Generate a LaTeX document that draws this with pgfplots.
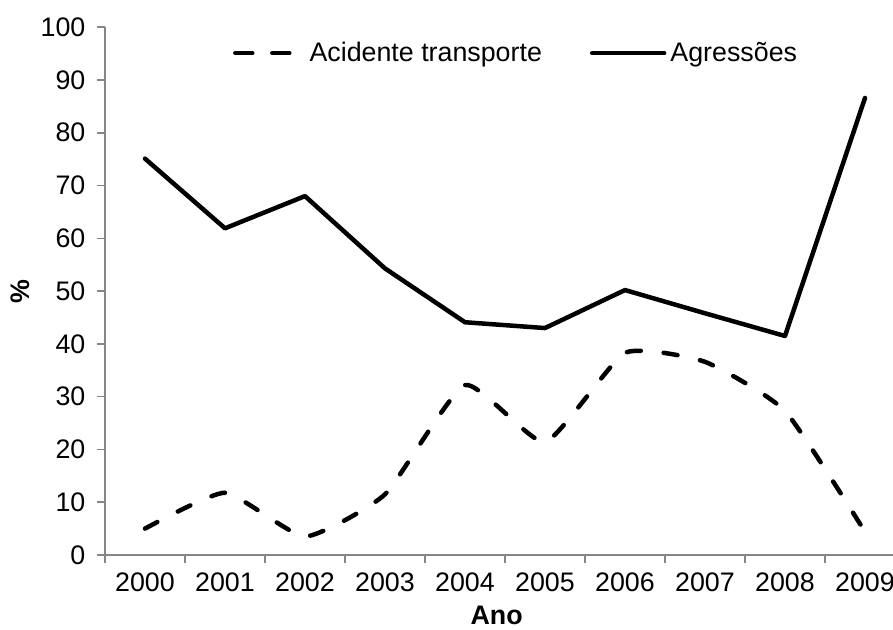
\documentclass[border=0pt]{standalone}
\usepackage{fontspec}
\setmainfont{Liberation Sans}
\usepackage{pgfplots}
\pgfplotsset{compat=1.18}
\definecolor{axgray}{RGB}{134,134,134}

\begin{document}
\begin{tikzpicture}
\begin{axis}[
    scale only axis,
    width=394pt, height=263.9pt,
    xmin=-0.5, xmax=9.35,
    ymin=0, ymax=100,
    axis lines*=left,
    axis line style={-, draw=axgray, line width=0.8pt},
    xtick={0,1,2,3,4,5,6,7,8,9},
    xticklabels={2000,2001,2002,2003,2004,2005,2006,2007,2008,2009},
    minor xtick={-0.5,0.5,1.5,2.5,3.5,4.5,5.5,6.5,7.5,8.5},
    ytick={0,10,...,100},
    tick align=outside,
    major tick length=3.8pt, minor tick length=3.8pt,
    major x tick style={draw=none},
    minor x tick style={draw=axgray, line width=0.8pt},
    ytick style={draw=axgray, line width=0.8pt},
    /pgf/number format/assume math mode=true,
    tick label style={font=\fontsize{13.4}{16}\selectfont},
    xticklabel style={yshift=-1.5pt},
    yticklabel style={xshift=-2.5pt},
    xlabel={\textbf{Ano}},
    ylabel={\textbf{\%}},
    label style={font=\fontsize{13.4}{16}\selectfont},
    xlabel style={at={(axis description cs:0.497,-0.1137)}, anchor=center},
    ylabel style={at={(axis description cs:-0.108,0.5)}, anchor=center},
    legend columns=2,
    legend style={draw=none, fill=none, at={(0.162,0.951)}, anchor=west,
        inner sep=0pt, font=\fontsize{13.4}{16}\selectfont,
        /tikz/every even column/.append style={column sep=22pt}},
    legend image code/.code={\draw[#1] (0pt,0pt) -- (36pt,0pt);},
]
% Acidente transporte (smoothed dashed line)
\addplot[black, line width=2.25pt, line cap=round, dash pattern=on 7pt off 11.5pt,
    smooth, tension=0.3,
    legend image code/.code={\draw[black, line width=2.25pt, line cap=round,
        dash pattern=on 8.5pt off 10pt] (0pt,0pt) -- (34pt,0pt);}]
    coordinates {
    (0,5.0) (1,11.8) (2,3.5) (3,11.5) (4,32.2)
    (5,21.4) (6,38.3) (7,36.6) (8,27.3) (9,4.4)
};
\addlegendentry{Acidente transporte}

% Agressoes
\addplot[black, line width=2.25pt, line cap=round, line join=round] coordinates {
    (0,75.1) (1,61.9) (2,68.0) (3,54.3) (4,44.1)
    (5,43.0) (6,50.2) (7,45.8) (8,41.5) (9,86.6)
};
\addlegendentry{Agressões}
\end{axis}
\pgfresetboundingbox
\path (current axis.south west) ++(-52.5pt,-37pt) rectangle ++(446.5pt,314.5pt);
\end{tikzpicture}
\end{document}
